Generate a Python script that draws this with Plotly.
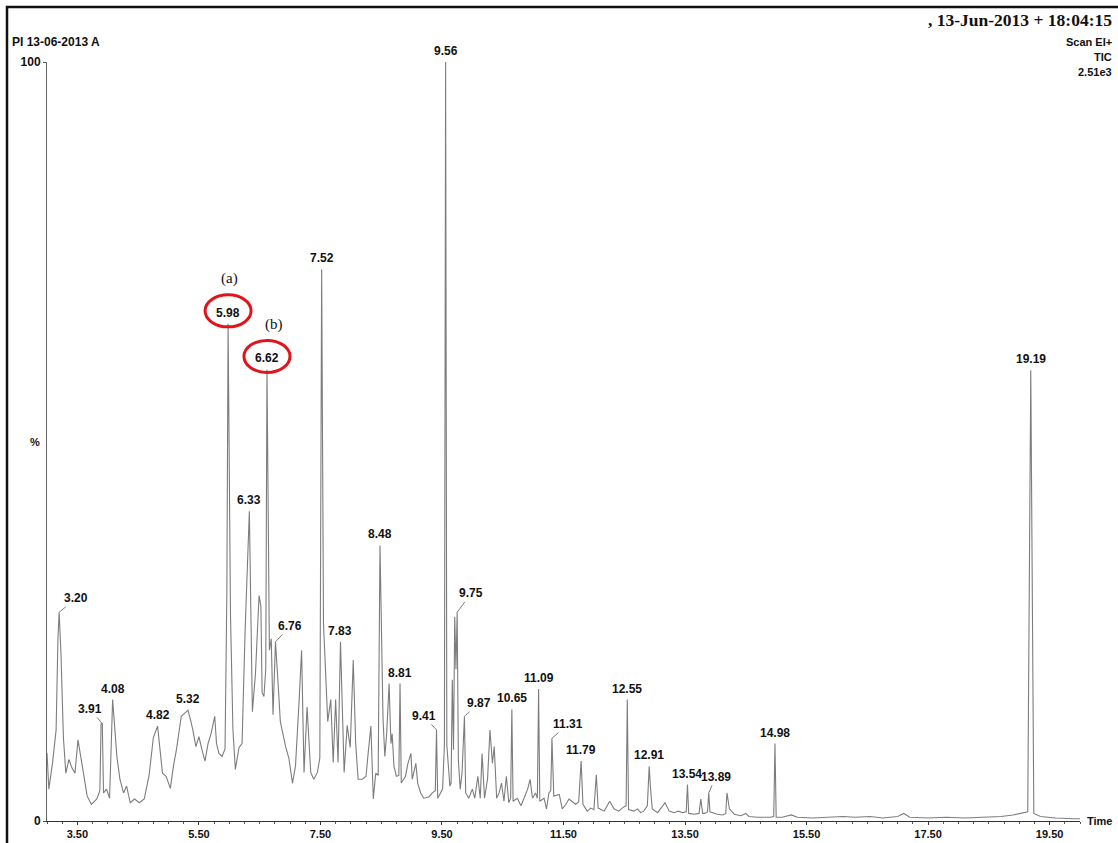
import plotly.graph_objects as go

# ---------------- data ----------------
rt = [3.00, 3.03, 3.09, 3.15, 3.18, 3.20, 3.23, 3.27, 3.31, 3.36, 3.41, 3.46, 3.51, 3.55, 3.60,
      3.66, 3.73, 3.82, 3.87, 3.89, 3.91, 3.93, 3.98, 4.03, 4.06, 4.08, 4.11, 4.15, 4.20, 4.26,
      4.31, 4.37, 4.44, 4.52, 4.60, 4.68, 4.75, 4.82, 4.86, 4.90, 4.96, 5.03, 5.08, 5.13, 5.21,
      5.28, 5.32, 5.36, 5.40, 5.45, 5.50, 5.55, 5.60, 5.65, 5.70, 5.76, 5.79, 5.83, 5.88, 5.93,
      5.96, 5.98, 6.00, 6.02, 6.06, 6.10, 6.16, 6.21, 6.26, 6.33, 6.38, 6.43, 6.49, 6.52, 6.54,
      6.57, 6.60, 6.62, 6.66, 6.69, 6.72, 6.76, 6.80, 6.84, 6.93, 6.98, 7.04, 7.09, 7.15, 7.19,
      7.23, 7.28, 7.34, 7.39, 7.45, 7.49, 7.52, 7.55, 7.62, 7.67, 7.71, 7.75, 7.79, 7.83, 7.89,
      7.94, 7.99, 8.04, 8.08, 8.12, 8.19, 8.25, 8.28, 8.33, 8.37, 8.41, 8.45, 8.48, 8.53, 8.56,
      8.59, 8.63, 8.66, 8.68, 8.71, 8.75, 8.79, 8.81, 8.83, 8.90, 8.94, 8.99, 9.01, 9.07, 9.10,
      9.15, 9.20, 9.29, 9.34, 9.39, 9.41, 9.43, 9.51, 9.54, 9.56, 9.58, 9.63, 9.65, 9.67, 9.69,
      9.71, 9.73, 9.75, 9.77, 9.80, 9.83, 9.87, 9.89, 9.94, 10.00, 10.04, 10.09, 10.13, 10.16, 10.20,
      10.25, 10.29, 10.33, 10.36, 10.40, 10.44, 10.48, 10.52, 10.56, 10.60, 10.63, 10.65, 10.67, 10.74, 10.80,
      10.85, 10.91, 10.95, 10.99, 11.04, 11.07, 11.09, 11.11, 11.18, 11.22, 11.26, 11.29, 11.31, 11.34, 11.43,
      11.48, 11.54, 11.59, 11.65, 11.70, 11.75, 11.79, 11.82, 11.89, 11.95, 12.00, 12.04, 12.07, 12.17, 12.22,
      12.26, 12.33, 12.41, 12.48, 12.53, 12.55, 12.57, 12.66, 12.72, 12.77, 12.82, 12.88, 12.91, 12.93, 12.96,
      13.05, 13.10, 13.17, 13.24, 13.32, 13.39, 13.46, 13.52, 13.54, 13.56, 13.65, 13.73, 13.76, 13.79, 13.82,
      13.87, 13.89, 13.91, 14.03, 14.12, 14.17, 14.19, 14.23, 14.31, 14.42, 14.50, 14.55, 14.69, 14.90, 14.96,
      14.98, 15.00, 15.10, 15.25, 15.35, 15.60, 15.90, 16.10, 16.30, 16.55, 16.75, 17.00, 17.10, 17.20, 17.50,
      17.80, 18.10, 18.40, 18.70, 18.90, 19.05, 19.14, 19.19, 19.24, 19.35, 19.60, 19.90, 20.00]

pct = [9.0, 4.2, 7.6, 12.0, 24.0, 27.5, 22.0, 11.0, 6.3, 8.1, 7.0, 6.3, 10.7, 8.9, 6.3,
       3.3, 2.2, 2.9, 4.0, 12.8, 12.8, 3.7, 4.2, 3.0, 10.0, 16.0, 12.8, 8.5, 5.5, 3.7,
       4.6, 2.4, 2.9, 2.4, 2.9, 6.0, 11.0, 12.5, 9.4, 6.3, 5.9, 4.3, 7.2, 9.4, 13.8,
       14.4, 14.6, 13.4, 12.0, 9.8, 11.1, 9.4, 7.9, 10.2, 11.5, 13.8, 10.2, 8.9, 8.5, 9.5,
       30.0, 65.5, 40.0, 27.0, 12.0, 6.8, 9.7, 10.2, 25.0, 40.8, 14.4, 19.3, 29.7, 28.3, 16.9,
       16.4, 20.0, 59.5, 22.5, 24.0, 14.0, 23.6, 18.5, 13.1, 9.7, 8.3, 5.0, 7.3, 16.0, 22.5,
       6.4, 15.0, 6.4, 5.5, 6.4, 8.3, 72.7, 26.0, 13.1, 16.0, 7.7, 16.0, 7.7, 23.6, 6.4,
       12.6, 9.7, 21.2, 10.2, 5.5, 5.5, 5.9, 8.5, 12.5, 2.9, 6.3, 6.0, 36.3, 13.4, 8.5,
       11.5, 18.1, 10.2, 11.5, 7.2, 5.9, 6.0, 18.1, 5.0, 5.9, 7.6, 8.9, 5.5, 7.6, 5.0,
       3.7, 3.0, 3.2, 3.7, 4.0, 12.0, 3.0, 4.2, 10.0, 100.0, 10.0, 4.6, 5.0, 18.6, 9.4,
       26.9, 20.0, 27.5, 8.0, 4.2, 6.3, 13.8, 3.7, 3.0, 4.2, 3.0, 5.9, 3.0, 8.9, 3.0,
       5.5, 12.0, 7.6, 9.8, 3.0, 3.7, 5.0, 2.6, 5.9, 2.4, 3.0, 14.7, 2.6, 3.0, 2.0,
       3.0, 4.2, 5.5, 3.0, 3.7, 3.0, 17.4, 2.6, 3.0, 1.6, 3.7, 4.0, 10.9, 3.3, 3.5,
       1.6, 2.2, 2.9, 2.5, 2.2, 2.5, 7.9, 2.2, 1.3, 1.7, 1.5, 6.1, 1.7, 1.3, 2.0,
       2.6, 1.6, 1.3, 1.8, 2.0, 16.0, 1.5, 1.3, 1.6, 1.1, 1.3, 2.0, 7.2, 4.6, 1.6,
       1.1, 1.6, 2.4, 1.3, 1.1, 1.3, 1.1, 1.2, 4.8, 1.0, 0.9, 1.0, 2.9, 1.0, 1.0,
       1.2, 3.7, 1.2, 0.9, 0.8, 1.0, 3.7, 1.6, 0.9, 0.7, 1.0, 0.6, 0.5, 0.5, 0.6,
       10.2, 0.5, 0.5, 0.8, 0.5, 0.4, 0.5, 0.6, 0.5, 0.6, 0.4, 0.6, 1.0, 0.5, 0.4,
       0.5, 0.4, 0.5, 0.6, 0.8, 1.0, 1.2, 59.4, 1.0, 0.6, 0.4, 0.3, 0.3]

peak_labels = [3.20, 3.91, 4.08, 4.82, 5.32, 5.98, 6.33, 6.62, 6.76, 7.52, 7.83, 8.48, 8.81, 9.41,
               9.56, 9.75, 9.87, 10.65, 11.09, 11.31, 11.79, 12.55, 12.91, 13.54, 13.89, 14.98, 19.19]
circled = [5.98, 6.62]
circled_tags = ["(a)", "(b)"]

x_ticks = [3.5, 5.5, 7.5, 9.5, 11.5, 13.5, 15.5, 17.5, 19.5]

# ---------------- layout constants ----------------
W, H = 1118, 843
ML, MR, MT, MB = 47, 38, 62, 22
PW, PH = W - ML - MR, H - MT - MB
FONT = "Liberation Sans, Arial, sans-serif"
SERIF = "Liberation Serif, Times New Roman, serif"
INK = "#111111"
TRACE = "#7d7d7d"


def px(x):
    return (x - ML) / PW


def py(y):
    return (H - MB - y) / PH


height_of = dict(zip(rt, pct))

fig = go.Figure()
fig.add_trace(go.Scatter(x=rt, y=pct, mode="lines",
                         line=dict(color=TRACE, width=1.1), hoverinfo="skip",
                         showlegend=False))

leaders = {3.20: (17, -14), 3.91: (-12, -15), 6.76: (15, -16), 9.41: (-13, -14),
           9.75: (14, -19), 9.87: (15, -13), 11.31: (16, -14), 13.89: (7, -16)}

lab_font = dict(family=FONT, size=12, color=INK)
ann = []
for t in peak_labels:
    h = height_of[t]
    txt = f"<b>{t:.2f}</b>"
    if t in leaders:
        ax, ay = leaders[t]
        ann.append(dict(x=t, y=h, text=txt, showarrow=True, arrowhead=0,
                        arrowwidth=1, arrowcolor=TRACE, ax=ax, ay=ay, standoff=0,
                        font=lab_font))
    else:
        ann.append(dict(x=t, y=h, text=txt, showarrow=False, yanchor="bottom",
                        yshift=2, font=lab_font))

shapes = []
for t, tag in zip(circled, circled_tags):
    h = height_of[t]
    ann.append(dict(x=t, y=h, text=tag, showarrow=False, yanchor="middle",
                    yshift=45, xshift=(1 if tag == "(a)" else 7),
                    font=dict(family=SERIF, size=15, color=INK)))
    shapes.append(dict(type="circle", xref="x", yref="y", xsizemode="pixel", ysizemode="pixel",
                       xanchor=t, yanchor=h, x0=-23, x1=23, y0=-3, y1=29,
                       line=dict(color="#e0141a", width=3)))

# frame
shapes.append(dict(type="rect", xref="paper", yref="paper", x0=px(7), x1=px(1135), y0=py(7), y1=py(870),
                   line=dict(color=INK, width=2.5), layer="above"))

# header texts
ann += [
    dict(xref="paper", yref="paper", x=px(10), y=py(42), xanchor="left", yanchor="middle",
         text="<b>PI 13-06-2013 A</b>", showarrow=False, font=dict(family=FONT, size=12, color=INK)),
    dict(xref="paper", yref="paper", x=px(1114), y=py(20), xanchor="right", yanchor="middle",
         text="<b>, 13-Jun-2013 + 18:04:15</b>", showarrow=False,
         font=dict(family=SERIF, size=17.5, color=INK)),
    dict(xref="paper", yref="paper", x=px(1114), y=py(42), xanchor="right", yanchor="middle",
         text="<b>Scan EI+</b>", showarrow=False, font=dict(family=FONT, size=11, color=INK)),
    dict(xref="paper", yref="paper", x=px(1114), y=py(57), xanchor="right", yanchor="middle",
         text="<b>TIC</b>", showarrow=False, font=dict(family=FONT, size=11, color=INK)),
    dict(xref="paper", yref="paper", x=px(1114), y=py(72), xanchor="right", yanchor="middle",
         text="<b>2.51e3</b>", showarrow=False, font=dict(family=FONT, size=11, color=INK)),
    dict(xref="paper", yref="paper", x=px(1085), y=py(H - MB), xanchor="left", yanchor="middle",
         text="<b>Time</b>", showarrow=False, font=dict(family=FONT, size=11, color=INK)),
    dict(xref="paper", yref="paper", x=px(35), y=0.5, xanchor="center", yanchor="middle",
         text="<b>%</b>", showarrow=False, font=dict(family=FONT, size=11, color=INK)),
]

fig.update_layout(
    width=W, height=H, margin=dict(l=ML, r=MR, t=MT, b=MB, pad=0, autoexpand=False),
    paper_bgcolor="white", plot_bgcolor="white",
    annotations=ann, shapes=shapes, showlegend=False,
    xaxis=dict(range=[3.0, 20.0], showgrid=False, zeroline=False, showline=True, automargin=False,
               linecolor="#333", linewidth=1, ticks="outside", ticklen=3, tickcolor="#333",
               tickvals=x_ticks, ticktext=[f"<b>{v:.2f}</b>" for v in x_ticks],
               tickfont=dict(family=FONT, size=11, color=INK),
               minor=dict(tick0=3.5, dtick=0.25, ticks="outside", ticklen=2, tickcolor="#555")),
    yaxis=dict(range=[0, 100], showgrid=False, zeroline=False, showline=True, automargin=False,
               linecolor="#666", linewidth=1, ticks="outside", ticklen=3, tickcolor="#555",
               tickvals=[0, 100], ticktext=["<b>0</b>", "<b>100</b>"],
               tickfont=dict(family=FONT, size=12, color=INK)),
)

fig.write_html("out.html", config={"displayModeBar": False},
               post_script="document.body.style.margin='0';document.body.style.overflow='hidden';")
